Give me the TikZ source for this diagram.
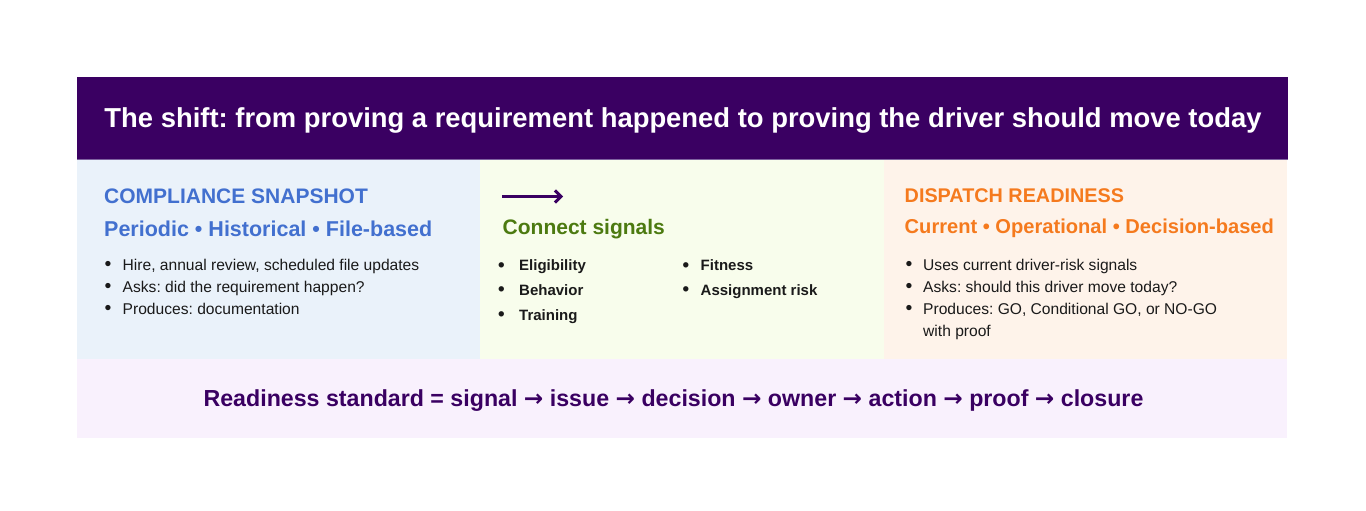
\documentclass[tikz,border=0pt]{standalone}
\usepackage{fontspec}
\setmainfont{Liberation Sans}
\newfontfamily\arrowfont{DejaVu Sans}
\usetikzlibrary{arrows.meta}
\definecolor{shiftpurple}{HTML}{3A0062}
\definecolor{shiftline}{HTML}{7E62A0}
\definecolor{snapbg}{HTML}{EAF2FA}
\definecolor{signalbg}{HTML}{F8FDEC}
\definecolor{readybg}{HTML}{FEF3EA}
\definecolor{standardbg}{HTML}{F9F1FD}
\definecolor{snapblue}{HTML}{4270CF}
\definecolor{signalgreen}{HTML}{4C7A10}
\definecolor{readyorange}{HTML}{F57A1E}
\definecolor{inktext}{HTML}{1A1A1A}
\newcommand{\itemdot}[1]{\makebox[#1][l]{\raisebox{-0.5pt}{\scalebox{1.25}{•}}}}
\newcommand{\flowto}{{\arrowfont →}}
\frenchspacing
\begin{document}
\begin{tikzpicture}[x=1pt,y=-1pt]
        \tikzstyle{panel}=[rectangle,draw=none,anchor=north west,inner sep=0pt,minimum height=199pt]
        \tikzstyle{heading}=[anchor=base west,inner sep=0pt,font=\fontsize{21}{25}\selectfont\bfseries]
        \tikzstyle{tagline}=[anchor=base west,inner sep=0pt,font=\fontsize{21.5}{25}\selectfont\bfseries]
        \tikzstyle{item}=[anchor=base west,inner sep=0pt,text=inktext,font=\fontsize{15.6}{18}\selectfont]
        \tikzstyle{signal}=[item,font=\fontsize{15}{18}\selectfont\bfseries]
       \useasboundingbox (0,0) rectangle (1366,511);
       \begin{scope}
         % banner
         \node [rectangle,fill=shiftpurple,anchor=north west,inner sep=0pt,minimum width=1211pt,minimum height=82pt] (banner) at (77,77) {};
         \draw [shiftline,line width=1pt] (banner.south west) -- (banner.south east);
         \node [anchor=base,inner sep=0pt,text=white,font=\fontsize{27.4}{32}\selectfont\bfseries] (title) at (683,128) {The shift: from proving a requirement happened to proving the driver should move today};

         % three panels
         \node [panel,fill=snapbg,minimum width=403pt] (snap) at (77,160) {};
         \node [panel,fill=signalbg,minimum width=404pt] (connect) at (480,160) {};
         \node [panel,fill=readybg,minimum width=403pt] (ready) at (884,160) {};

         \node [heading,text=snapblue] (snaphead) at (104,203) {COMPLIANCE SNAPSHOT};
         \node [tagline,text=snapblue] (snaptag) at (104,236.5) {Periodic • Historical • File-based};
         \node [item] (snap1) at (104.5,270) {\itemdot{18pt}Hire, annual review, scheduled file updates};
         \node [item] (snap2) at (104.5,292) {\itemdot{18pt}Asks: did the requirement happen?};
         \node [item] (snap3) at (104.5,314) {\itemdot{18pt}Produces: documentation};

         \coordinate (flowS) at (502,196.5);
         \coordinate (flowE) at (563,196.5);
         \draw [shiftpurple,line width=3pt,-{Straight Barb[length=6pt,width=12pt]}] (flowS) -- (flowE);
         \node [heading,text=signalgreen] (connecthead) at (502.5,234) {Connect signals};
         \node [signal] (sig1) at (498,270.5) {\itemdot{21pt}Eligibility};
         \node [signal] (sig2) at (498,295) {\itemdot{21pt}Behavior};
         \node [signal] (sig3) at (498,320) {\itemdot{21pt}Training};
         \node [signal] (sig4) at (682.5,270.5) {\itemdot{18pt}Fitness};
         \node [signal] (sig5) at (682.5,295) {\itemdot{18pt}Assignment risk};

         \node [heading,text=readyorange,font=\fontsize{19.8}{24}\selectfont\bfseries] (readyhead) at (904.5,202.5) {DISPATCH READINESS};
         \node [tagline,text=readyorange,font=\fontsize{20.1}{24}\selectfont\bfseries] (readytag) at (904.5,233) {Current • Operational • Decision-based};
         \node [item] (ready1) at (905.5,270) {\itemdot{17.5pt}Uses current driver-risk signals};
         \node [item] (ready2) at (905.5,292) {\itemdot{17.5pt}Asks: should this driver move today?};
         \node [item] (ready3) at (905.5,314) {\itemdot{17.5pt}Produces: GO, Conditional GO, or NO-GO};
         \node [item] (ready4) at (923,336) {with proof};

         % standard strip
         \node [rectangle,fill=standardbg,anchor=north west,inner sep=0pt,minimum width=1210pt,minimum height=79pt] (strip) at (77,359) {};
         \node [anchor=base,inner sep=0pt,text=shiftpurple,font=\fontsize{23.2}{27}\selectfont\bfseries] (standard) at (673.5,406) {Readiness standard = signal \flowto{} issue \flowto{} decision \flowto{} owner \flowto{} action \flowto{} proof \flowto{} closure};
        \end{scope}
      \end{tikzpicture}
\end{document}
